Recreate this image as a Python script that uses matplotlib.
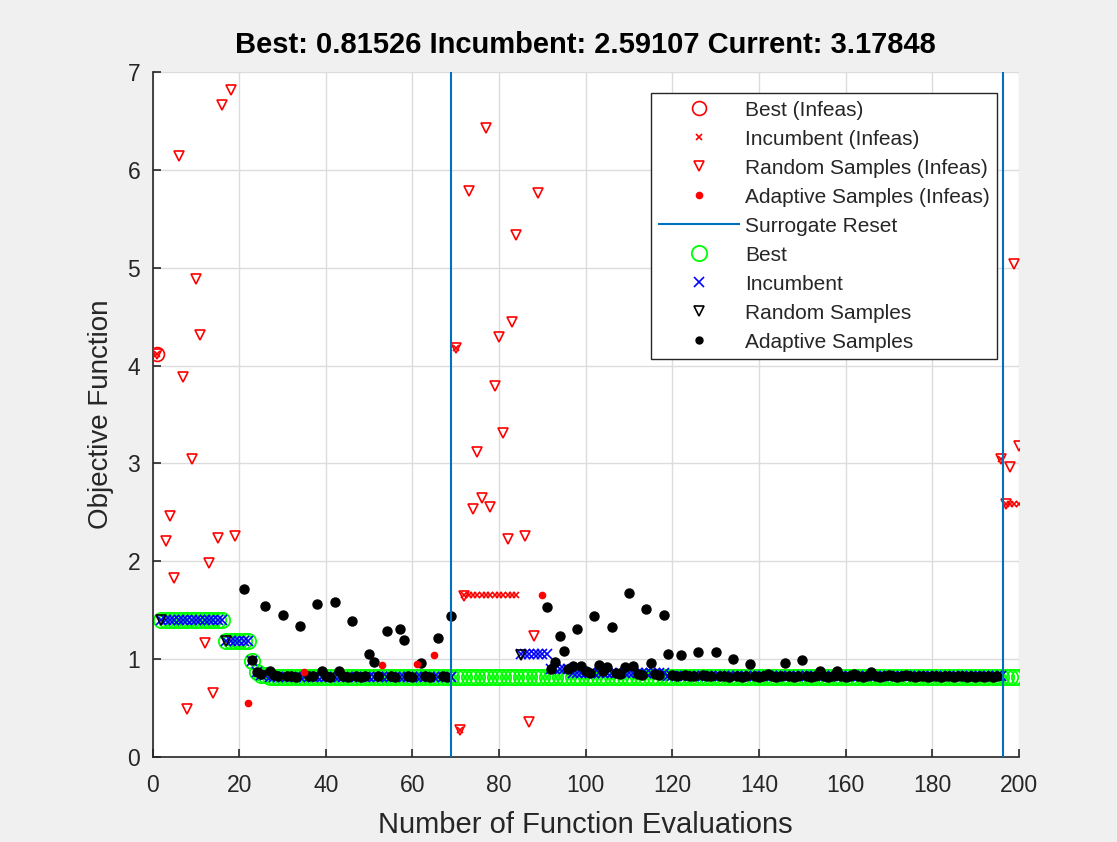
import numpy as np
import matplotlib
matplotlib.use("Agg")
import matplotlib.pyplot as plt
from matplotlib.lines import Line2D

plt.rcParams['font.family'] = ['Liberation Sans', 'DejaVu Sans']

# --- data ---
title_txt = "Best: 0.81526 Incumbent: 2.59107 Current: 3.17848"

# infeasible random samples
rand_inf_x = [1, 3, 4, 5, 6, 7, 8, 9, 10, 11, 12, 13, 14, 15, 16, 18, 19,
              70, 71, 72, 73, 74, 75, 76, 77, 78, 79, 80, 81, 82, 83, 84, 86, 87, 88, 89,
              196, 197, 198, 199, 200]
rand_inf_y = [4.12, 2.21, 2.46, 1.83, 6.14, 3.88, 0.49, 3.04, 4.88, 4.31, 1.16, 1.98, 0.65, 2.24, 6.66, 6.82, 2.26,
              4.18, 0.28, 1.64, 5.78, 2.53, 3.12, 2.65, 6.43, 2.55, 3.79, 4.29, 3.31, 2.23, 4.45, 5.33, 2.26, 0.36, 1.24, 5.76,
              3.05, 2.59, 2.96, 5.04, 3.18]

# infeasible adaptive samples
adap_inf_x = [22, 35, 53, 61, 65, 90]
adap_inf_y = [0.55, 0.87, 0.94, 0.95, 1.04, 1.66]

# feasible random samples
rand_x = [2, 17, 85]
rand_y = [1.40, 1.19, 1.04]

# feasible adaptive samples, first cycle
adap1_x = [21, 23, 24, 25, 26, 27, 28, 29, 30, 31, 32, 33, 34, 36, 37, 38, 39, 40,
           41, 42, 43, 44, 45, 46, 47, 48, 49, 50, 51, 52, 54, 55, 56, 57, 58, 59, 60,
           62, 63, 64, 66, 67, 68, 69]
adap1_y = [1.72, 0.99, 0.87, 0.85, 1.54, 0.88, 0.84, 0.83, 1.45, 0.83, 0.83, 0.82, 1.34, 0.83, 0.83, 1.56, 0.88, 0.83,
           0.82, 1.58, 0.88, 0.83, 0.82, 1.39, 0.83, 0.82, 0.83, 1.05, 0.97, 0.83, 1.29, 0.83, 0.82, 1.31, 1.20, 0.83, 0.82,
           0.96, 0.83, 0.82, 1.22, 0.83, 0.82, 1.44]

# feasible adaptive samples, second cycle (evaluations 91..195)
adap2_start = 91
adap2_y = [1.53, 0.90, 0.97, 1.24, 1.08, 0.90, 0.93, 1.31, 0.93, 0.88,   # 91-100
           0.86, 1.44, 0.94, 0.88, 0.92, 1.33, 0.86, 0.85, 0.92, 1.68,   # 101-110
           0.93, 0.85, 0.84, 1.51, 0.96, 0.85, 0.84, 1.45, 1.05, 0.84,   # 111-120
           0.83, 1.04, 0.84, 0.83, 0.83, 1.07, 0.84, 0.83, 0.83, 1.07,   # 121-130
           0.83, 0.83, 0.82, 1.00, 0.83, 0.82, 0.83, 0.95, 0.83, 0.82,   # 131-140
           0.83, 0.85, 0.83, 0.82, 0.83, 0.96, 0.83, 0.82, 0.83, 0.99,   # 141-150
           0.83, 0.82, 0.83, 0.88, 0.83, 0.82, 0.83, 0.88, 0.83, 0.82,   # 151-160
           0.83, 0.85, 0.83, 0.82, 0.83, 0.87, 0.83, 0.82, 0.83, 0.84,   # 161-170
           0.83, 0.82, 0.83, 0.84, 0.83, 0.82, 0.83, 0.83, 0.82, 0.83,   # 171-180
           0.83, 0.82, 0.83, 0.83, 0.82, 0.83, 0.83, 0.82, 0.83, 0.82,   # 181-190
           0.83, 0.82, 0.83, 0.82, 0.83]                                 # 191-195

# step traces: (first eval, last eval, value)
best_start = [2, 17, 23, 24, 25, 27]
best_end = [16, 22, 23, 24, 26, 200]
best_val = [1.40, 1.19, 0.98, 0.87, 0.84, 0.815]

inc_start = [2, 17, 23, 24, 25, 27, 85, 92, 97, 119]
inc_end = [16, 22, 23, 24, 26, 69, 91, 96, 118, 196]
inc_val = [1.40, 1.19, 0.98, 0.87, 0.84, 0.815, 1.05, 0.90, 0.86, 0.83]

inc_inf_start = [1, 70, 71, 72, 196, 197]
inc_inf_end = [1, 70, 71, 84, 196, 200]
inc_inf_val = [4.12, 4.18, 0.28, 1.66, 3.05, 2.59]

best_inf_x = [1]
best_inf_y = [4.12]

resets = [69, 196.3]


def steps(starts, ends, vals):
    xs, ys = [], []
    for s, e, v in zip(starts, ends, vals):
        for k in range(s, e + 1):
            xs.append(k)
            ys.append(v)
    return xs, ys


best_x, best_y = steps(best_start, best_end, best_val)
inc_x, inc_y = steps(inc_start, inc_end, inc_val)
inc_inf_x, inc_inf_y = steps(inc_inf_start, inc_inf_end, inc_inf_val)
adap2_x = list(range(adap2_start, adap2_start + len(adap2_y)))

fig = plt.figure(figsize=(11.17, 8.42), dpi=100)
fig.patch.set_facecolor('#f0f0f0')
ax = fig.add_axes([0.1367, 0.101, 0.7753, 0.8135])

txt = '#262626'
ax.plot(best_x, best_y, 'o', ls='none', mfc='none', mec='#00ff00', ms=11, mew=1.3, zorder=2)
ax.plot(inc_x, inc_y, 'x', ls='none', color='#0000ff', ms=7, mew=1.2, zorder=3)
ax.plot(adap1_x, adap1_y, 'o', ls='none', color='black', ms=6.5, zorder=4)
ax.plot(adap2_x, adap2_y, 'o', ls='none', color='black', ms=6.5, zorder=4)
ax.plot(rand_x, rand_y, 'v', ls='none', mfc='none', mec='black', ms=7, mew=1.2, zorder=4)
ax.plot(best_inf_x, best_inf_y, 'o', ls='none', mfc='none', mec='#ff0000', ms=10, mew=1.2, zorder=5)
ax.plot(inc_inf_x, inc_inf_y, 'x', ls='none', color='#ff0000', ms=4, mew=1.2, zorder=5)
ax.plot(rand_inf_x, rand_inf_y, 'v', ls='none', mfc='none', mec='#ff0000', ms=7, mew=1.2, zorder=5)
ax.plot(adap_inf_x, adap_inf_y, 'o', ls='none', color='#ff0000', ms=4.5, zorder=5)
for r in resets:
    ax.axvline(r, color='#0072bd', lw=1.5, zorder=6)

ax.set_xlim(0, 200)
ax.set_ylim(0, 7)
ax.set_xticks(np.arange(0, 201, 20))
ax.set_yticks(np.arange(0, 8, 1))
ax.grid(True, color='#dcdcdc', lw=1)
ax.set_axisbelow(True)
for s in ['top', 'right']:
    ax.spines[s].set_visible(False)
for s in ['left', 'bottom']:
    ax.spines[s].set_color(txt)
    ax.spines[s].set_linewidth(1.2)
ax.tick_params(direction='in', length=6, width=1.2, colors=txt, labelsize=16.5)
ax.tick_params(axis='x', pad=12)
ax.tick_params(axis='y', pad=9)

ax.set_title(title_txt, fontsize=21, fontweight='bold', color='black', pad=14)
ax.set_xlabel('Number of Function Evaluations', fontsize=21, color=txt, labelpad=10)
ax.set_ylabel('Objective Function', fontsize=20, color=txt, labelpad=10)

handles = [
    Line2D([], [], marker='o', ls='none', mfc='none', mec='#ff0000', ms=10, mew=1.2),
    Line2D([], [], marker='x', ls='none', color='#ff0000', ms=4, mew=1.2),
    Line2D([], [], marker='v', ls='none', mfc='none', mec='#ff0000', ms=7, mew=1.2),
    Line2D([], [], marker='o', ls='none', color='#ff0000', ms=4.5),
    Line2D([], [], color='#0072bd', lw=1.5),
    Line2D([], [], marker='o', ls='none', mfc='none', mec='#00ff00', ms=11, mew=1.3),
    Line2D([], [], marker='x', ls='none', color='#0000ff', ms=7, mew=1.2),
    Line2D([], [], marker='v', ls='none', mfc='none', mec='black', ms=7, mew=1.2),
    Line2D([], [], marker='o', ls='none', color='black', ms=5),
]
labels = ['Best (Infeas)', 'Incumbent (Infeas)', 'Random Samples (Infeas)',
          'Adaptive Samples (Infeas)', 'Surrogate Reset', 'Best', 'Incumbent',
          'Random Samples', 'Adaptive Samples']
leg = ax.legend(handles, labels, loc='upper right', bbox_to_anchor=(0.975, 0.969),
                borderaxespad=0, fontsize=15, handlelength=3.85, handletextpad=0.3,
                labelspacing=0.48, borderpad=0.35, fancybox=False, framealpha=1,
                edgecolor=txt)
leg.get_frame().set_linewidth(1.0)
for t in leg.get_texts():
    t.set_color(txt)

fig.savefig('out.png', dpi=100, facecolor=fig.get_facecolor())
